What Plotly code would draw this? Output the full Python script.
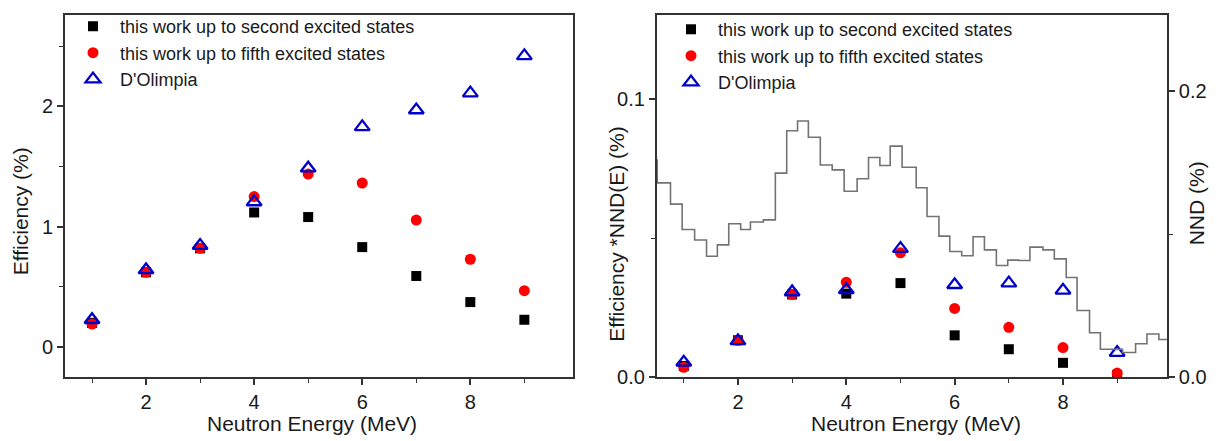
import plotly.graph_objects as go

# ---------------- data ----------------
energy = [1, 2, 3, 4, 5, 6, 7, 8, 9]

# left panel: efficiency (%)
eff_second = [0.20, 0.62, 0.82, 1.118, 1.08, 0.83, 0.59, 0.373, 0.226]
eff_fifth = [0.19, 0.62, 0.82, 1.25, 1.437, 1.363, 1.055, 0.729, 0.468]
eff_dolimpia = [0.226, 0.64, 0.843, 1.205, 1.486, 1.83, 1.97, 2.11, 2.42]

# right panel: efficiency * NND(E) (%)
nnd_second = [0.004, 0.0132, 0.0297, 0.030, 0.0338, 0.015, 0.010, 0.0051, 0.0007]
nnd_fifth = [0.0035, 0.0132, 0.0297, 0.0341, 0.0447, 0.0247, 0.0179, 0.0106, 0.0014]
nnd_dolimpia = [0.0053, 0.013, 0.0306, 0.0314, 0.0462, 0.0332, 0.0338, 0.0312, 0.0088]

# neutron number distribution histogram (bin edges in MeV, values in %)
nnd_edges = [0.3, 0.51, 0.755, 0.97, 1.2, 1.42, 1.62, 1.83, 2.05, 2.23, 2.47,
             2.69, 2.9, 3.1, 3.3, 3.52, 3.74, 3.96, 4.2, 4.41, 4.62, 4.81,
             5.03, 5.29, 5.49, 5.71, 5.91, 6.13, 6.34, 6.55, 6.77, 6.98,
             7.18, 7.39, 7.63, 7.84, 8.06, 8.26, 8.49, 8.69, 9.1, 9.34,
             9.55, 9.77, 10.0]
nnd_values = [0.1518, 0.1359, 0.121, 0.1032, 0.0959, 0.0845, 0.0925, 0.1073,
              0.1032, 0.1085, 0.110, 0.1427, 0.1724, 0.1792, 0.1678, 0.1484,
              0.145, 0.130, 0.1388, 0.1537, 0.148, 0.1616, 0.1468, 0.1325,
              0.1123, 0.0986, 0.0879, 0.0849, 0.0982, 0.089, 0.0781, 0.0818,
              0.0815, 0.0909, 0.089, 0.0827, 0.0697, 0.0466, 0.031, 0.0194,
              0.0171, 0.0233, 0.0301, 0.0263]

series_names = ["this work up to second excited states",
                "this work up to fifth excited states",
                "D'Olimpia"]

# ---------------- styles ----------------
FONT = "Arial, Liberation Sans, Helvetica, sans-serif"
TXT = "#1a1a1a"
BLACK = "#000000"
RED = "#ff0000"
BLUE = "#0000c8"
GRAY = "#737373"
AXIS = "#333333"

W, H = 1217, 441
ML, MR, MT, MB = 65, 50, 8, 64
PW = W - ML - MR
PH = H - MT - MB


def px_x(p):
    return (p - ML) / PW


def px_y(p):
    return 1 - (p - MT) / PH


sq = dict(symbol="square", size=10, color=BLACK)
ci = dict(symbol="circle", size=11, color=RED)
tri = dict(symbol="triangle-up-open", size=13, color=BLUE, line=dict(width=2.3, color=BLUE))

fig = go.Figure()

# left panel
fig.add_trace(go.Scatter(x=energy, y=eff_second, mode="markers", marker=sq,
                         name=series_names[0], xaxis="x", yaxis="y", legend="legend"))
fig.add_trace(go.Scatter(x=energy, y=eff_fifth, mode="markers", marker=ci,
                         name=series_names[1], xaxis="x", yaxis="y", legend="legend"))
fig.add_trace(go.Scatter(x=energy, y=eff_dolimpia, mode="markers", marker=tri,
                         name=series_names[2], xaxis="x", yaxis="y", legend="legend"))

# right panel: histogram on right axis
fig.add_trace(go.Scatter(x=nnd_edges, y=nnd_values + [nnd_values[-1]], mode="lines",
                         line=dict(shape="hv", color=GRAY, width=1.6),
                         xaxis="x2", yaxis="y3", showlegend=False, hoverinfo="skip"))
fig.add_trace(go.Scatter(x=energy, y=nnd_second, mode="markers", marker=sq,
                         name=series_names[0], xaxis="x2", yaxis="y2", legend="legend2"))
fig.add_trace(go.Scatter(x=energy, y=nnd_fifth, mode="markers", marker=ci,
                         name=series_names[1], xaxis="x2", yaxis="y2", legend="legend2"))
fig.add_trace(go.Scatter(x=energy, y=nnd_dolimpia, mode="markers", marker=tri,
                         name=series_names[2], xaxis="x2", yaxis="y2", legend="legend2"))

axis_common = dict(showline=True, linecolor=AXIS, linewidth=1.6, mirror=True,
                   ticks="outside", ticklen=6, tickwidth=1.5, tickcolor=AXIS,
                   showgrid=False, zeroline=False,
                   tickfont=dict(family=FONT, size=20, color=TXT))
minor_common = dict(ticks="outside", ticklen=4, tickwidth=1.2, tickcolor=AXIS, showgrid=False)

x1_dom = [0, px_x(573)]
x2_dom = [px_x(656.7), 1]

fig.update_layout(
    width=W, height=H,
    margin=dict(l=ML, r=MR, t=MT, b=MB),
    paper_bgcolor="white", plot_bgcolor="white",
    font=dict(family=FONT, size=18, color=TXT),
    xaxis=dict(domain=x1_dom, range=[0.5, 9.9], tickvals=[2, 4, 6, 8],
               minor=dict(tickvals=[1, 3, 5, 7, 9], **minor_common), anchor="y",
               **axis_common),
    yaxis=dict(domain=[0, 1], range=[-0.25, 2.76], tickvals=[0, 1, 2],
               minor=dict(tickvals=[0.5, 1.5, 2.5], **minor_common), anchor="x",
               **axis_common),
    xaxis2=dict(domain=x2_dom, range=[0.5, 9.92], tickvals=[2, 4, 6, 8],
                minor=dict(tickvals=[1, 3, 5, 7, 9], **minor_common), anchor="y2",
                **axis_common),
    yaxis2=dict(domain=[0, 1], range=[0, 0.1303], tickvals=[0, 0.1], tickformat=".1f",
                minor=dict(tickvals=[0.05], **minor_common), anchor="x2",
                **axis_common),
    yaxis3=dict(range=[0, 0.2534], tickvals=[0, 0.2], tickformat=".1f",
                minor=dict(tickvals=[0.1], **minor_common),
                overlaying="y2", side="right", anchor="x2",
                **{k: v for k, v in axis_common.items() if k != "mirror"}),
    legend=dict(x=px_x(66), y=px_y(1), xanchor="left", yanchor="top",
                bgcolor="rgba(0,0,0,0)", borderwidth=0, itemwidth=44,
                font=dict(family=FONT, size=18, color=TXT), tracegroupgap=0),
    legend2=dict(x=px_x(664), y=px_y(4), xanchor="left", yanchor="top",
                 bgcolor="rgba(0,0,0,0)", borderwidth=0, itemwidth=44,
                 font=dict(family=FONT, size=18, color=TXT), tracegroupgap=0),
    annotations=[
        dict(text="Neutron Energy (MeV)", xref="paper", yref="paper",
             x=px_x(312), y=px_y(424), xanchor="center", yanchor="middle",
             showarrow=False, font=dict(family=FONT, size=21, color=TXT)),
        dict(text="Neutron Energy (MeV)", xref="paper", yref="paper",
             x=px_x(916), y=px_y(424), xanchor="center", yanchor="middle",
             showarrow=False, font=dict(family=FONT, size=21, color=TXT)),
        dict(text="Efficiency (%)", xref="paper", yref="paper",
             x=px_x(20), y=px_y(208), xanchor="center", yanchor="middle",
             textangle=-90, showarrow=False, font=dict(family=FONT, size=21, color=TXT)),
        dict(text="Efficiency *NND(E) (%)", xref="paper", yref="paper",
             x=px_x(617), y=px_y(232), xanchor="center", yanchor="middle",
             textangle=-90, showarrow=False, font=dict(family=FONT, size=21, color=TXT)),
        dict(text="NND (%)", xref="paper", yref="paper",
             x=px_x(1196), y=px_y(200), xanchor="center", yanchor="middle",
             textangle=-90, showarrow=False, font=dict(family=FONT, size=21, color=TXT)),
    ],
)

fig.write_html("out.html", config={"displayModeBar": False},
               post_script="document.body.style.margin='0';")
